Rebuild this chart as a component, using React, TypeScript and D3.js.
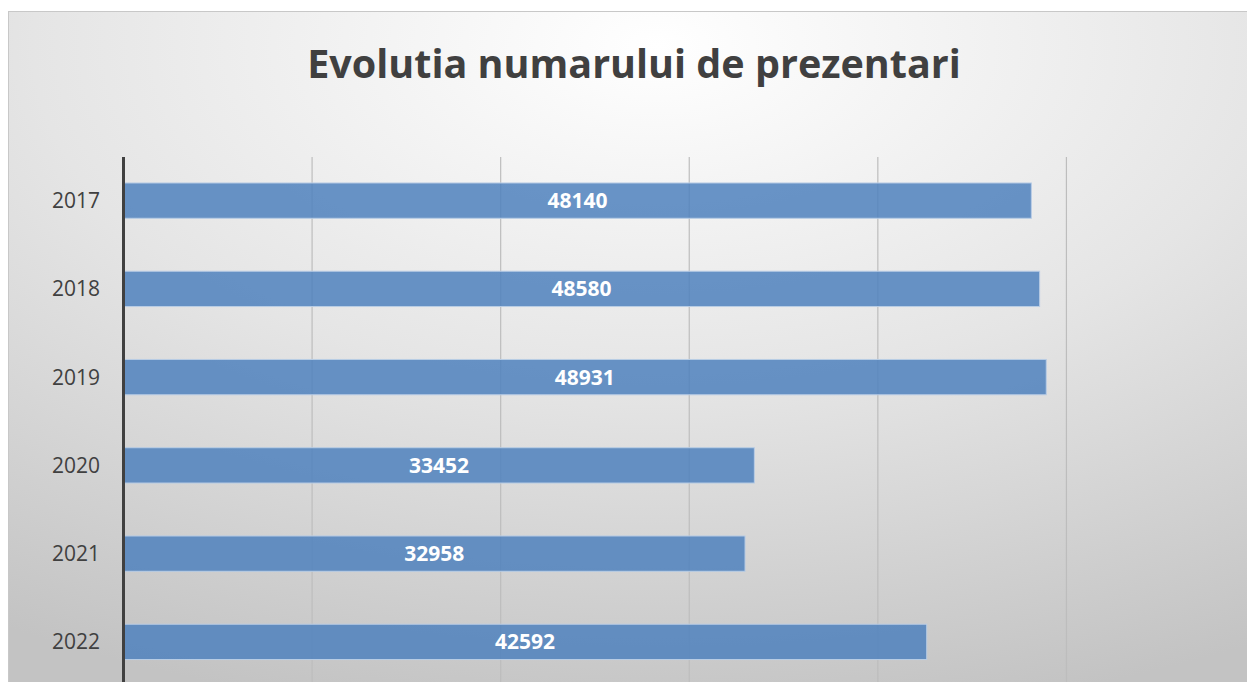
import React from "react";
import * as d3 from "d3";

const years = ["2017", "2018", "2019", "2020", "2021", "2022"];
const presenters = [48140, 48580, 48931, 33452, 32958, 42592];
const gridTicks = [0, 10000, 20000, 30000, 40000, 50000, 60000];

const W = 1247;
const H = 682;

export default function App() {
  const x = d3.scaleLinear().domain([0, 60000]).range([123.5, 1255]);
  const y = d3.scaleBand().domain(years).range([156.5, 686]).paddingInner(0.6).paddingOuter(0.3);

  return (
    <svg width={W} height={H} style={{ position: "absolute", left: 0, top: 0 }}>
      <defs>
        <radialGradient id="bg" cx="52%" cy="5%" r="100%" gradientUnits="objectBoundingBox">
          <stop offset="0%" stopColor="#ffffff" />
          <stop offset="50%" stopColor="#e5e5e5" />
          <stop offset="100%" stopColor="#c3c3c3" />
        </radialGradient>
      </defs>
      <rect x={0} y={0} width={W} height={H} fill="#ffffff" />
      <rect x={8.5} y={11.5} width={W} height={H} fill="url(#bg)" stroke="#c8c8c8" />

      <text
        x={634}
        y={78}
        textAnchor="middle"
        fontFamily="'Open Sans', sans-serif"
        fontWeight="bold"
        fontSize={39.5}
        fill="#404040"
      >
        Evolutia numarului de prezentari
      </text>

      {gridTicks.slice(1).map((t) => (
        <line key={t} x1={x(t)} x2={x(t)} y1={157} y2={H} stroke="#bdbdbd" strokeWidth={1.2} />
      ))}

      {years.map((yr, i) => (
        <g key={yr}>
          <rect
            x={x(0)}
            y={y(yr)}
            width={x(presenters[i]) - x(0)}
            height={y.bandwidth()}
            fill="#4f81bd"
            fillOpacity={0.85}
            stroke="#b9cde5"
            strokeWidth={1}
          />
          <text
            x={(x(0) + x(presenters[i])) / 2}
            y={(y(yr) as number) + y.bandwidth() / 2}
            dy="0.36em"
            textAnchor="middle"
            fontFamily="'Open Sans', sans-serif"
            fontWeight="bold"
            fontSize={21}
            fill="#ffffff"
          >
            {presenters[i]}
          </text>
          <text
            x={100}
            y={(y(yr) as number) + y.bandwidth() / 2}
            dy="0.36em"
            textAnchor="end"
            fontFamily="'Open Sans', sans-serif"
            fontSize={21}
            fill="#404040"
          >
            {yr}
          </text>
        </g>
      ))}

      <line x1={123.5} x2={123.5} y1={157} y2={H} stroke="#404040" strokeWidth={3} />
    </svg>
  );
}
